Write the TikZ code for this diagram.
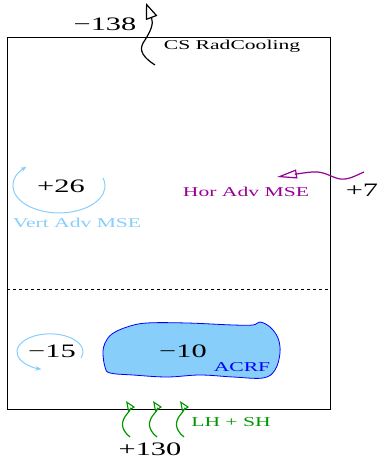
\documentclass[tikz,border=0pt]{standalone}
\usepackage{fontspec}
\setmainfont{Liberation Serif}
\usetikzlibrary{arrows.meta}
\definecolor{lblue}{RGB}{135,206,250}
\definecolor{purp}{RGB}{150,0,150}
\definecolor{grn}{RGB}{0,150,0}
\definecolor{blu}{RGB}{0,0,255}
\begin{document}
\begin{tikzpicture}[x=1pt,y=1pt,
  big/.style={font=\fontsize{19}{22}\selectfont, xscale=1.6, inner sep=0pt, anchor=base},
  small/.style={font=\fontsize{13.5}{16}\selectfont, xscale=1.6, inner sep=0pt, anchor=base},
  flux/.style={line width=1.2pt},
  circarrow/.style={lblue, line width=1pt, -{Stealth[length=6pt,width=4.5pt]}}
]
\useasboundingbox (0,0) rectangle (379,459);
% column box
\draw[line width=0.9pt] (7,50) rectangle (330,422);
\draw[dashed, line width=0.7pt] (7,170) -- (330,170);

% top: radiative cooling
\coordinate (rcS) at (155,394);
\coordinate (rcE) at (146,456);
\draw[flux, -{Triangle[open,length=16pt,width=12pt,line width=1.2pt]}]
  (rcS) .. controls (138,405) and (140,412) .. (145,419)
        .. controls (150,427) and (154,435) .. (rcE);
\node[big] (n138) at (105,428) {−138};
\node[small] (rc) at (232,409) {CS RadCooling};

% vertical advection upper
\node[big] (n26) at (61,266) {+26};
\draw[circarrow] (103,281) arc[start angle=17, end angle=-225, x radius=46, y radius=27];
\node[small, text=lblue] (vadv) at (77,231) {Vert Adv MSE};

% horizontal advection
\coordinate (haS) at (364,287);
\coordinate (haE) at (277,282);
\draw[purp, flux, -{Triangle[open,length=20pt,width=9pt,line width=1.2pt]}]
  (haS) .. controls (355,283) and (348,279) .. (340,280)
        .. controls (330,282) and (325,288) .. (312,287)
        .. controls (302,286) and (290,284) .. (haE);
\node[small, text=purp] (hadv) at (246,262) {Hor Adv MSE};
\node[big] (n7) at (362,262) {+7};

% lower circulation
\draw[circarrow] (81,101) arc[start angle=-20, end angle=255, x radius=33, y radius=18];
\node[big] (n15) at (52,102) {−15};

% ACRF blob
\draw[blu, fill=lblue, line width=0.8pt] plot[smooth cycle, tension=0.6] coordinates {
  (105,116) (112,125) (127,132) (147,136) (187,136) (233,134) (253,134) (260,137)
  (270,132) (278,121) (280,106) (275,89) (263,81) (233,82) (200,84) (167,82)
  (133,84) (110,86) (105,92) (103,106)};
\node[big] (n10) at (183,102) {−10};
\node[small, text=blu] (acrf) at (242,87) {ACRF};

% surface fluxes
\foreach \dx/\nm in {0/a,27/b,54/c}{
  \coordinate (sf\nm S) at ({130+\dx},22);
  \coordinate (sf\nm E) at ({126+\dx},58);
  \draw[grn, flux, -{Triangle[open,length=10pt,width=8pt,line width=1.1pt]}]
    (sf\nm S) .. controls ({120+\dx},30) and ({121+\dx},38) .. ({127+\dx},45)
             .. controls ({131+\dx},49) and ({130+\dx},52) .. (sf\nm E);
}
\node[small, text=grn] (lhsh) at (231,32) {LH + SH};
\node[big] (n130) at (150,4) {+130};
\end{tikzpicture}
\end{document}
